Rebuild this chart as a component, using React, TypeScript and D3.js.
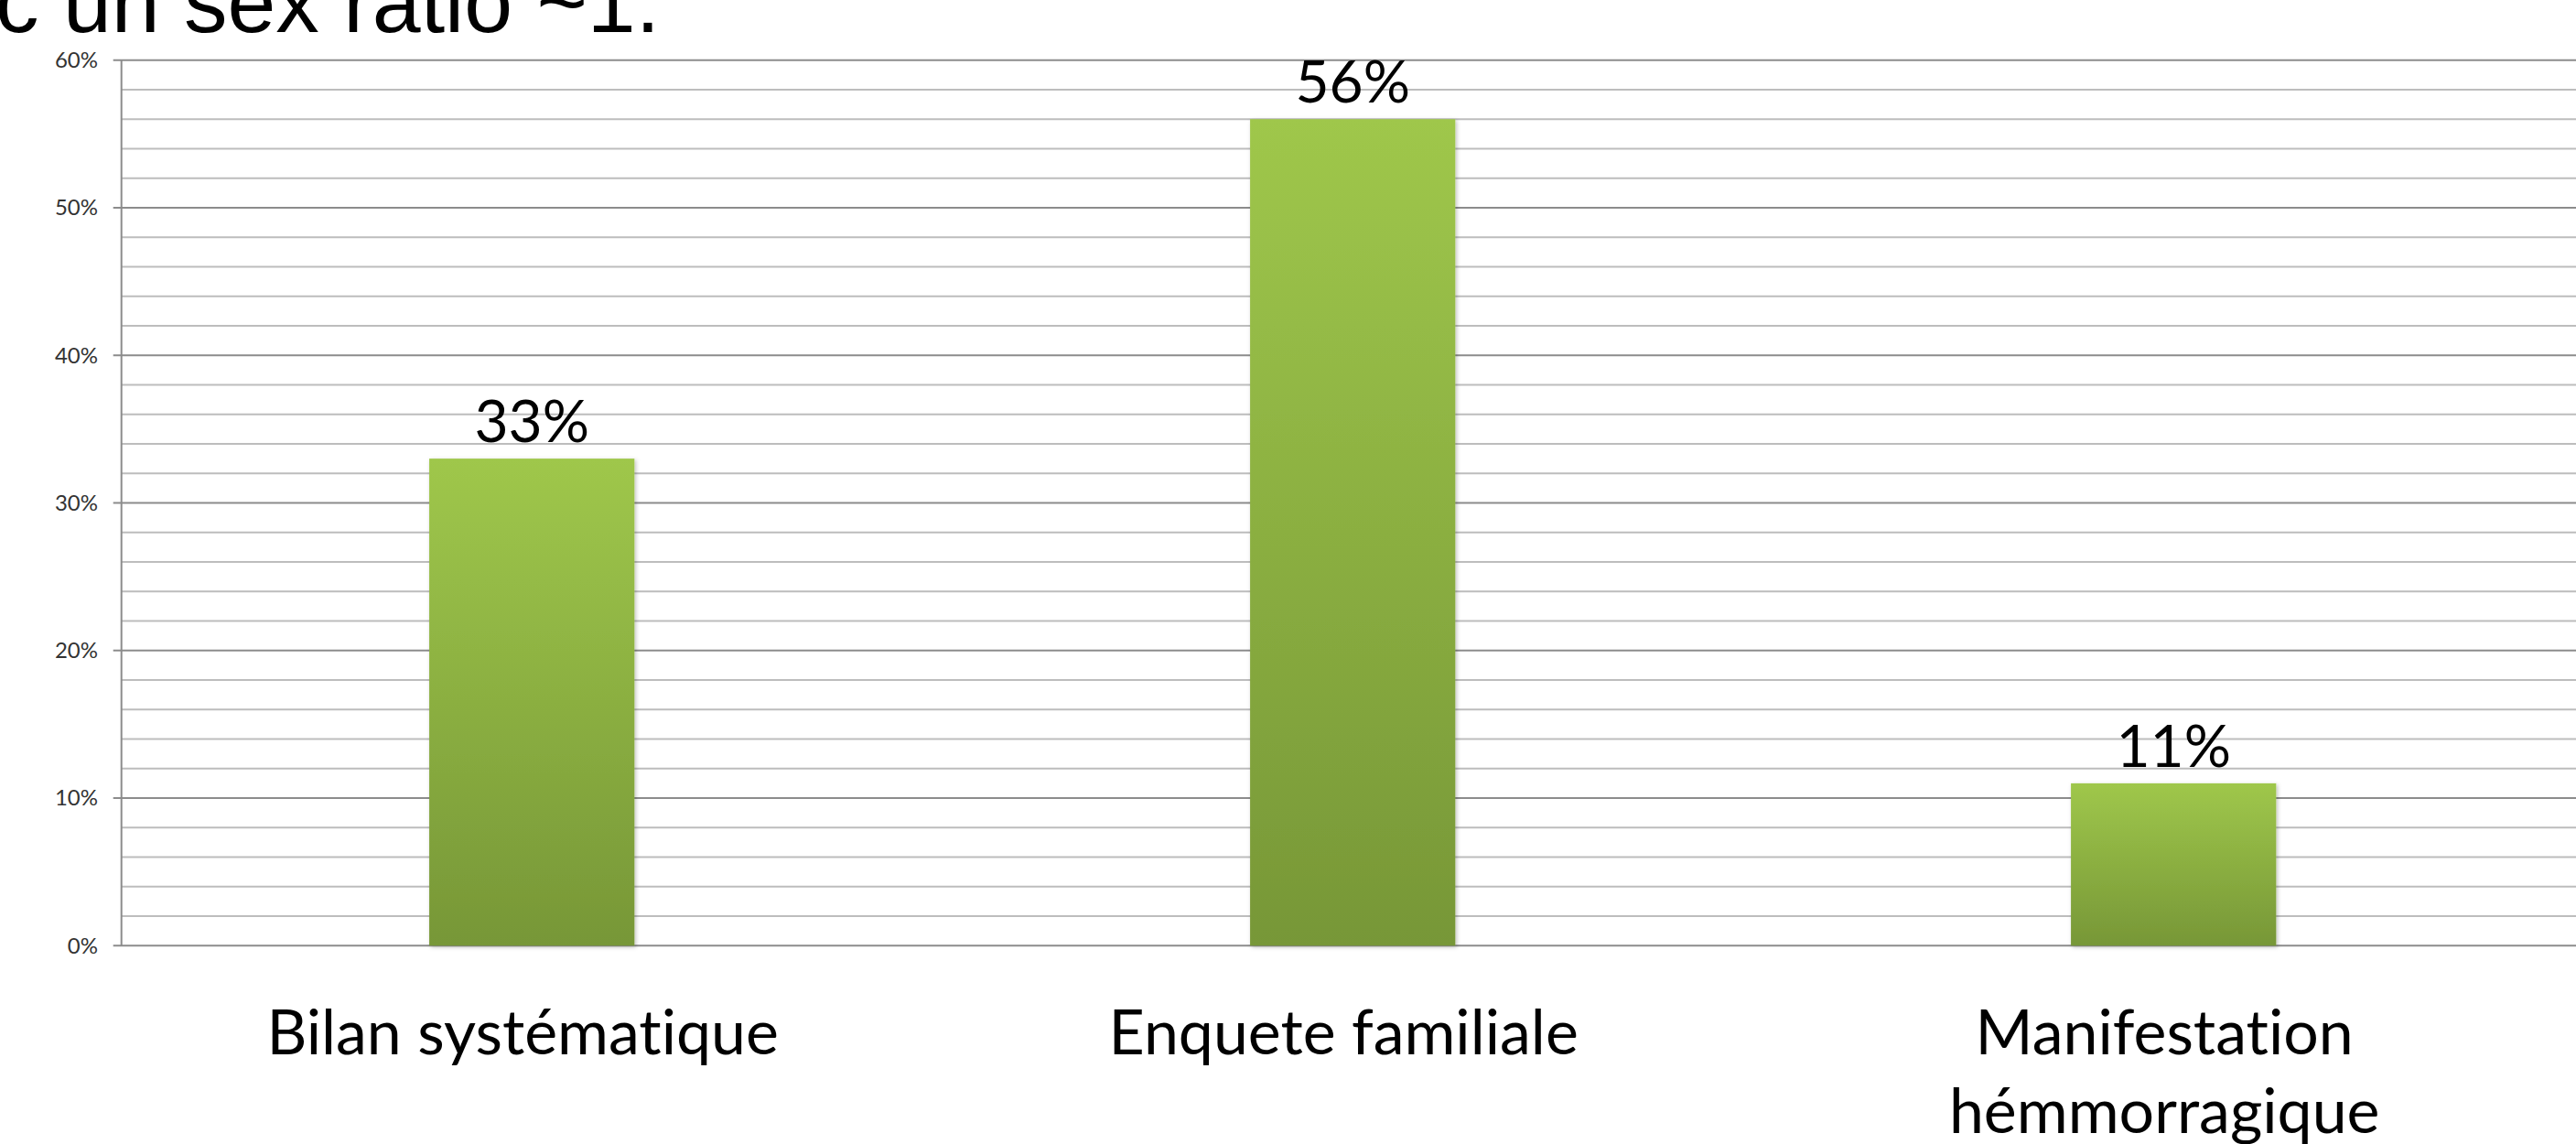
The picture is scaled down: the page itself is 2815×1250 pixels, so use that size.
import React from "react";
import * as d3 from "d3";

const categories: string[] = ["Bilan systématique", "Enquete familiale", "Manifestation hémmorragique"];
const categoryLines: string[][] = [["Bilan systématique"], ["Enquete familiale"], ["Manifestation", "hémmorragique"]];
const values: number[] = [33, 56, 11];
const valueLabels: string[] = ["33%", "56%", "11%"];
const majorTicks: number[] = [0, 10, 20, 30, 40, 50, 60];
const minorTicks: number[] = d3.range(0, 61, 2);
const titleText = "c un sex ratio ~1.";

const W = 2815;
const H = 1250;
const axisX = 132.7;
const y0 = 1033.3;
const yTop = 65.7;
const step = 897;

export default function App() {
  const x = d3
    .scaleBand<string>()
    .domain(categories)
    .range([axisX, axisX + step * categories.length])
    .paddingInner(0.75)
    .paddingOuter(0.375);
  const y = d3.scaleLinear().domain([0, 60]).range([y0, yTop]);
  const labelFont = "Lato, 'Open Sans', sans-serif";
  const noLig: React.CSSProperties = { fontVariantLigatures: "none", fontFeatureSettings: "'liga' 0, 'clig' 0" };

  return (
    <svg
      width={W}
      height={H}
      viewBox={`0 0 ${W} ${H}`}
      style={{ position: "absolute", left: 0, top: 0, background: "#fff" }}
    >
      <defs>
        <linearGradient id="barGrad" x1="0" y1="0" x2="0" y2="1">
          <stop offset="0%" stopColor="#9fc74b" />
          <stop offset="100%" stopColor="#779737" />
        </linearGradient>
        <filter id="shadow" x="-10%" y="-10%" width="120%" height="120%">
          <feDropShadow dx="1.5" dy="1.5" stdDeviation="2" floodColor="#000" floodOpacity="0.25" />
        </filter>
      </defs>
      <rect x={0} y={0} width={W} height={H} fill="#fff" />

      {/* title fragment */}
      <text x={-5} y={35} fontFamily="'Liberation Sans', Arial, sans-serif" fontSize={95} fill="#000">
        {titleText}
      </text>

      {/* minor gridlines */}
      {minorTicks
        .filter((t) => t % 10 !== 0)
        .map((t) => (
          <line key={"m" + t} x1={axisX} x2={W} y1={y(t)} y2={y(t)} stroke="#bdbdbd" strokeWidth={2} />
        ))}
      {/* major gridlines */}
      {majorTicks.map((t) => (
        <line key={"M" + t} x1={axisX - 9} x2={W} y1={y(t)} y2={y(t)} stroke="#8c8c8c" strokeWidth={2} />
      ))}
      {/* y axis line */}
      <line x1={axisX} x2={axisX} y1={yTop} y2={y0} stroke="#8c8c8c" strokeWidth={2} />

      {/* y tick labels */}
      {majorTicks.map((t) => (
        <text
          key={"l" + t}
          x={107}
          y={y(t)}
          dy="0.35em"
          textAnchor="end"
          fontFamily={labelFont}
          fontSize={24}
          fill="#333"
        >
          {t + "%"}
        </text>
      ))}

      {/* bars */}
      {categories.map((c, i) => (
        <rect
          key={"b" + c}
          x={x(c)}
          y={y(values[i])}
          width={x.bandwidth()}
          height={y(0) - y(values[i])}
          fill="url(#barGrad)"
          filter="url(#shadow)"
        />
      ))}

      {/* value labels */}
      {categories.map((c, i) => (
        <text
          key={"v" + c}
          x={(x(c) as number) + x.bandwidth() / 2}
          y={y(values[i]) - 18}
          textAnchor="middle"
          fontFamily={labelFont}
          fontSize={64}
          fill="#000"
          style={noLig}
        >
          {valueLabels[i]}
        </text>
      ))}

      {/* category labels */}
      {categories.map((c, i) => {
        const cx = (x(c) as number) + x.bandwidth() / 2 - 10;
        return (
          <text
            key={"c" + c}
            x={cx}
            y={1152}
            textAnchor="middle"
            fontFamily={labelFont}
            fontSize={68}
            fill="#000"
            style={noLig}
          >
            {categoryLines[i].map((ln, j) => (
              <tspan key={j} x={cx} dy={j === 0 ? 0 : 86}>
                {ln}
              </tspan>
            ))}
          </text>
        );
      })}
    </svg>
  );
}
